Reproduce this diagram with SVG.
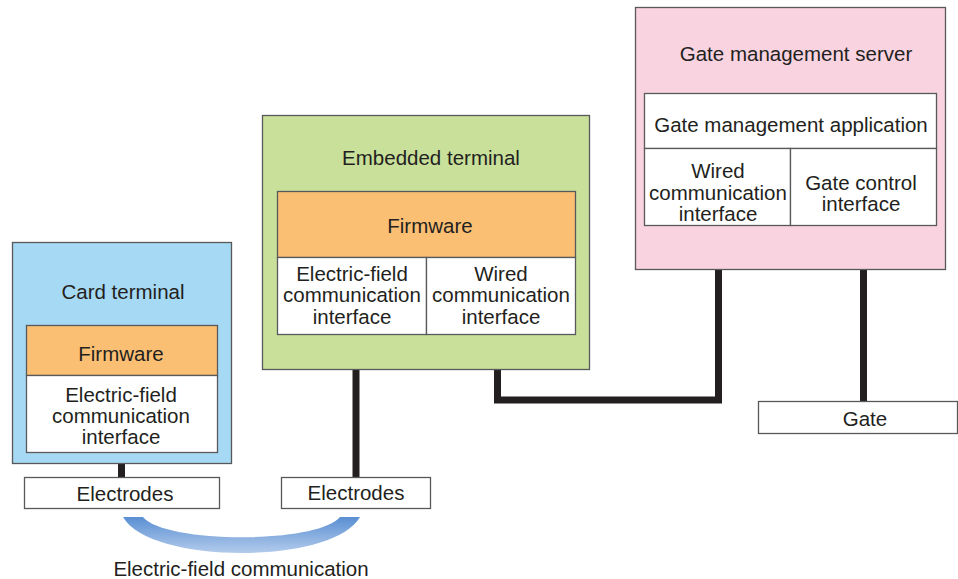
<svg xmlns="http://www.w3.org/2000/svg" width="958" height="579" viewBox="0 0 958 579">
<defs>
<style>
text{font-family:"Liberation Sans",Arial,sans-serif;font-size:20.5px;fill:#231f20;text-anchor:middle}
.b{stroke:#58595b;stroke-width:1.3}
.w{fill:#fff}
.fw{fill:#fbbf74}
.ln{fill:none;stroke:#231f20;stroke-width:7;stroke-linejoin:miter}
</style>
<linearGradient id="g" x1="0" y1="0" x2="0" y2="1">
<stop offset="0" stop-color="#5a8fd2"/>
<stop offset="1" stop-color="#b3cbec"/>
</linearGradient>
</defs>
<rect width="958" height="579" fill="#fff"/>
<g id="connectors">
<path class="ln" d="M121.5,452 V477"/>
<path class="ln" d="M356,335 V477"/>
<path class="ln" d="M497.5,335 V400 H718.5 V226"/>
<path class="ln" d="M863.5,226 V401"/>
</g>
<g id="card-terminal">
<rect class="b" x="12.5" y="242.5" width="219" height="221" fill="#a6d9f4"/>
<text x="123" y="299">Card terminal</text>
<rect class="b fw" x="26.5" y="325.5" width="191" height="50"/>
<text x="121" y="360.5">Firmware</text>
<rect class="b w" x="26.5" y="375.5" width="191" height="77"/>
<text x="121" y="401.5">Electric-field</text>
<text x="121" y="422.5">communication</text>
<text x="121" y="444">interface</text>
</g>
<g id="card-electrodes">
<rect class="b w" x="24.5" y="477.5" width="195" height="31"/>
<text x="125" y="501">Electrodes</text>
</g>
<g id="embedded-terminal">
<rect class="b" x="262.5" y="115.5" width="327" height="254" fill="#c9e09b"/>
<text x="431" y="165">Embedded terminal</text>
<rect class="b fw" x="277.5" y="191.5" width="298" height="66"/>
<text x="430" y="233">Firmware</text>
<rect class="b w" x="277.5" y="257.5" width="149" height="77"/>
<rect class="b w" x="426.5" y="257.5" width="149" height="77"/>
<text x="352" y="280.5">Electric-field</text>
<text x="352" y="302">communication</text>
<text x="352" y="324">interface</text>
<text x="501" y="280.5">Wired</text>
<text x="501" y="302">communication</text>
<text x="501" y="324">interface</text>
</g>
<g id="embedded-electrodes">
<rect class="b w" x="281.5" y="477.5" width="149" height="31"/>
<text x="356" y="500">Electrodes</text>
</g>
<g id="gate-management-server">
<rect class="b" x="635.5" y="7.5" width="310" height="262" fill="#f9d3e0"/>
<text x="796" y="61">Gate management server</text>
<rect class="b w" x="644.5" y="93.5" width="292" height="55"/>
<text x="791" y="131.5">Gate management application</text>
<rect class="b w" x="644.5" y="148.5" width="146" height="77"/>
<rect class="b w" x="790.5" y="148.5" width="146" height="77"/>
<text x="718" y="177.5">Wired</text>
<text x="718" y="199.5">communication</text>
<text x="718" y="220.5">interface</text>
<text x="861" y="189.5">Gate control</text>
<text x="861" y="210.5">interface</text>
</g>
<g id="gate">
<rect class="b w" x="758.5" y="401.5" width="199" height="32"/>
<text x="865" y="425.5">Gate</text>
</g>
<g id="electric-field-communication">
<path d="M123,517 C150,565 333,565 360,517 L340,517 C318,544 165,544 143,517 Z" fill="url(#g)"/>
<text x="241" y="576">Electric-field communication</text>
</g>
</svg>
